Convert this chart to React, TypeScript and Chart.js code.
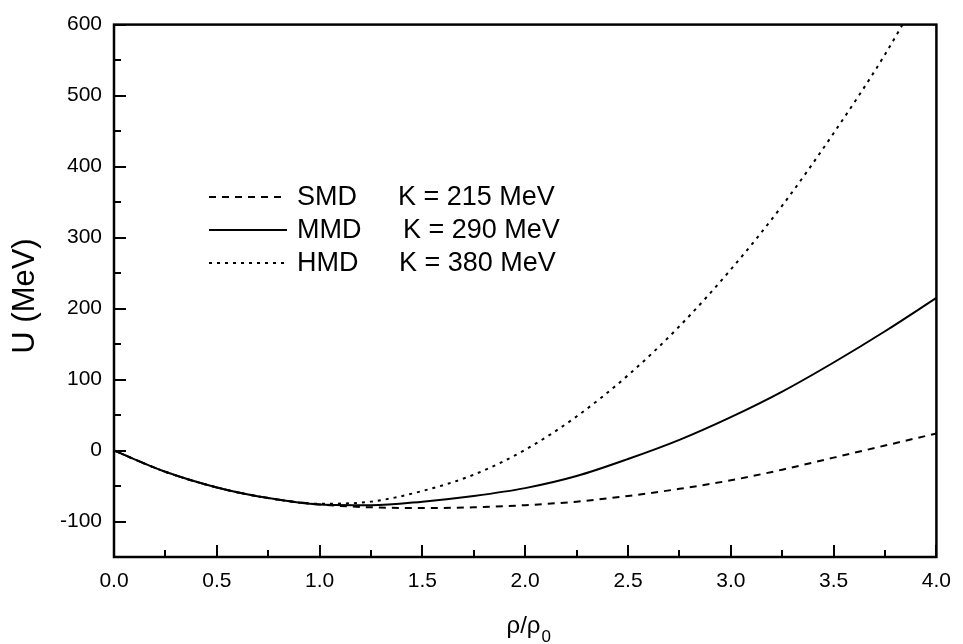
import { useEffect, useRef } from 'react';
import { Chart, registerables } from 'chart.js';

Chart.register(...registerables);

// ---- data ----
const rhoValues = [0, 0.25, 0.5, 0.75, 1.0, 1.25, 1.5, 1.75, 2.0, 2.25, 2.5, 2.75, 3.0, 3.25, 3.5, 3.75, 4.0];
const smdValues = [0, -30, -52, -67, -76, -80, -81, -80, -77, -72, -64, -54, -42, -27, -10, 7, 24];
const mmdValues = [0, -30, -52, -67, -76, -77, -72, -64, -53, -36, -12, 15, 47, 83, 124, 168, 215];
const hmdValues = [0, -30, -52, -67, -75, -72, -57, -34, 1, 48, 106, 175, 255, 345, 447, 558, 685];

const seriesNames = ['SMD', 'MMD', 'HMD'];
const kLabels = ['K = 215 MeV', 'K = 290 MeV', 'K = 380 MeV'];

const xMajorTicks = [0, 0.5, 1.0, 1.5, 2.0, 2.5, 3.0, 3.5, 4.0];
const xMinorTicks = [0.25, 0.75, 1.25, 1.75, 2.25, 2.75, 3.25, 3.75];
const yMajorTicks = [-100, 0, 100, 200, 300, 400, 500, 600];
const yMinorTicks = [-150, -50, 50, 150, 250, 350, 450, 550];

const xTitle = 'ρ/ρ';
const xTitleSub = '0';
const yTitle = 'U (MeV)';

const FONT = '"Liberation Sans", Arial, Helvetica, sans-serif';
const dashes: number[][] = [[7, 6], [], [3, 5]];

const decorPlugin = {
  id: 'decor',
  afterDatasetsDraw(chart: any) {
    const { ctx, chartArea: a, scales } = chart;
    const xs = scales.x;
    const ys = scales.y;
    ctx.save();
    ctx.strokeStyle = '#000';
    ctx.lineWidth = 2;
    ctx.setLineDash([]);
    ctx.beginPath();
    xMajorTicks.forEach((v) => {
      const px = Math.round(xs.getPixelForValue(v));
      ctx.moveTo(px, a.bottom);
      ctx.lineTo(px, a.bottom - 12);
    });
    xMinorTicks.forEach((v) => {
      const px = Math.round(xs.getPixelForValue(v));
      ctx.moveTo(px, a.bottom);
      ctx.lineTo(px, a.bottom - 7);
    });
    yMajorTicks.forEach((v) => {
      const py = Math.round(ys.getPixelForValue(v));
      ctx.moveTo(a.left, py);
      ctx.lineTo(a.left + 12, py);
    });
    yMinorTicks.forEach((v) => {
      const py = Math.round(ys.getPixelForValue(v));
      ctx.moveTo(a.left, py);
      ctx.lineTo(a.left + 7, py);
    });
    ctx.stroke();
    ctx.lineWidth = 2.5;
    ctx.strokeRect(a.left, a.top, a.right - a.left, a.bottom - a.top);

    // legend
    const lx0 = 209;
    const lx1 = 287;
    const nameX = 297;
    const kX = [398, 403, 399];
    const rowY = [197, 230, 263];
    ctx.fillStyle = '#000';
    ctx.font = `27px ${FONT}`;
    ctx.textBaseline = 'middle';
    ctx.textAlign = 'left';
    chart.data.datasets.forEach((ds: any, i: number) => {
      ctx.lineWidth = 2;
      ctx.setLineDash(ds.borderDash || []);
      ctx.beginPath();
      ctx.moveTo(lx0, rowY[i]);
      ctx.lineTo(lx1, rowY[i]);
      ctx.stroke();
      ctx.setLineDash([]);
      ctx.fillText(seriesNames[i], nameX, rowY[i] + 1);
      ctx.fillText(kLabels[i], kX[i], rowY[i] + 1);
    });

    // axis titles
    ctx.textBaseline = 'alphabetic';
    ctx.font = `24px ${FONT}`;
    const mainW = ctx.measureText(xTitle).width;
    ctx.font = `17px ${FONT}`;
    const subW = ctx.measureText(xTitleSub).width;
    const cx = (a.left + a.right) / 2 + 3;
    const startX = cx - (mainW + subW) / 2;
    ctx.font = `24px ${FONT}`;
    ctx.fillText(xTitle, startX, 633);
    ctx.font = `17px ${FONT}`;
    ctx.fillText(xTitleSub, startX + mainW + 1, 642);

    ctx.save();
    ctx.translate(25, 296);
    ctx.rotate(-Math.PI / 2);
    ctx.font = `31px ${FONT}`;
    ctx.textAlign = 'center';
    ctx.textBaseline = 'middle';
    ctx.fillText(yTitle, 0, 0);
    ctx.restore();

    ctx.restore();
  },
};

export default function App() {
  const ref = useRef<HTMLCanvasElement>(null);
  useEffect(() => {
    if (!ref.current) return;
    const mk = (vals: number[]) => rhoValues.map((x, i) => ({ x, y: vals[i] }));
    const chart = new Chart(ref.current, {
      type: 'line',
      data: {
        datasets: [smdValues, mmdValues, hmdValues].map((vals, i) => ({
          label: seriesNames[i] + ' ' + kLabels[i],
          data: mk(vals),
          borderColor: '#000',
          backgroundColor: '#000',
          borderWidth: 2,
          borderDash: dashes[i],
          pointRadius: 0,
          cubicInterpolationMode: 'monotone' as const,
          fill: false,
        })),
      },
      options: {
        animation: false,
        responsive: false,
        maintainAspectRatio: false,
        layout: { padding: { top: 22, right: 17, left: 0, bottom: 0 } },
        plugins: { legend: { display: false }, tooltip: { enabled: false } },
        scales: {
          x: {
            type: 'linear',
            min: 0,
            max: 4,
            grid: { display: false, drawTicks: false },
            border: { display: false },
            afterBuildTicks: (s: any) => {
              s.ticks = xMajorTicks.map((value) => ({ value }));
            },
            afterFit: (s: any) => {
              s.height = 87;
            },
            ticks: {
              color: '#000',
              padding: 12,
              maxRotation: 0,
              autoSkip: false,
              font: { family: FONT, size: 21 },
              callback: (v: any) => Number(v).toFixed(1),
            },
          },
          y: {
            type: 'linear',
            min: -150,
            max: 600,
            grid: { display: false, drawTicks: false },
            border: { display: false },
            afterBuildTicks: (s: any) => {
              s.ticks = yMajorTicks.map((value) => ({ value }));
            },
            afterFit: (s: any) => {
              s.width = 114;
            },
            ticks: {
              color: '#000',
              padding: 12,
              autoSkip: false,
              font: { family: FONT, size: 21 },
              callback: (v: any) => String(v),
            },
          },
        },
      },
      plugins: [decorPlugin],
    });
    return () => chart.destroy();
  }, []);
  return (
    <div style={{ position: 'fixed', left: 0, top: 0, width: 963, height: 644, background: '#fff' }}>
      <canvas ref={ref} width={963} height={644} />
    </div>
  );
}
